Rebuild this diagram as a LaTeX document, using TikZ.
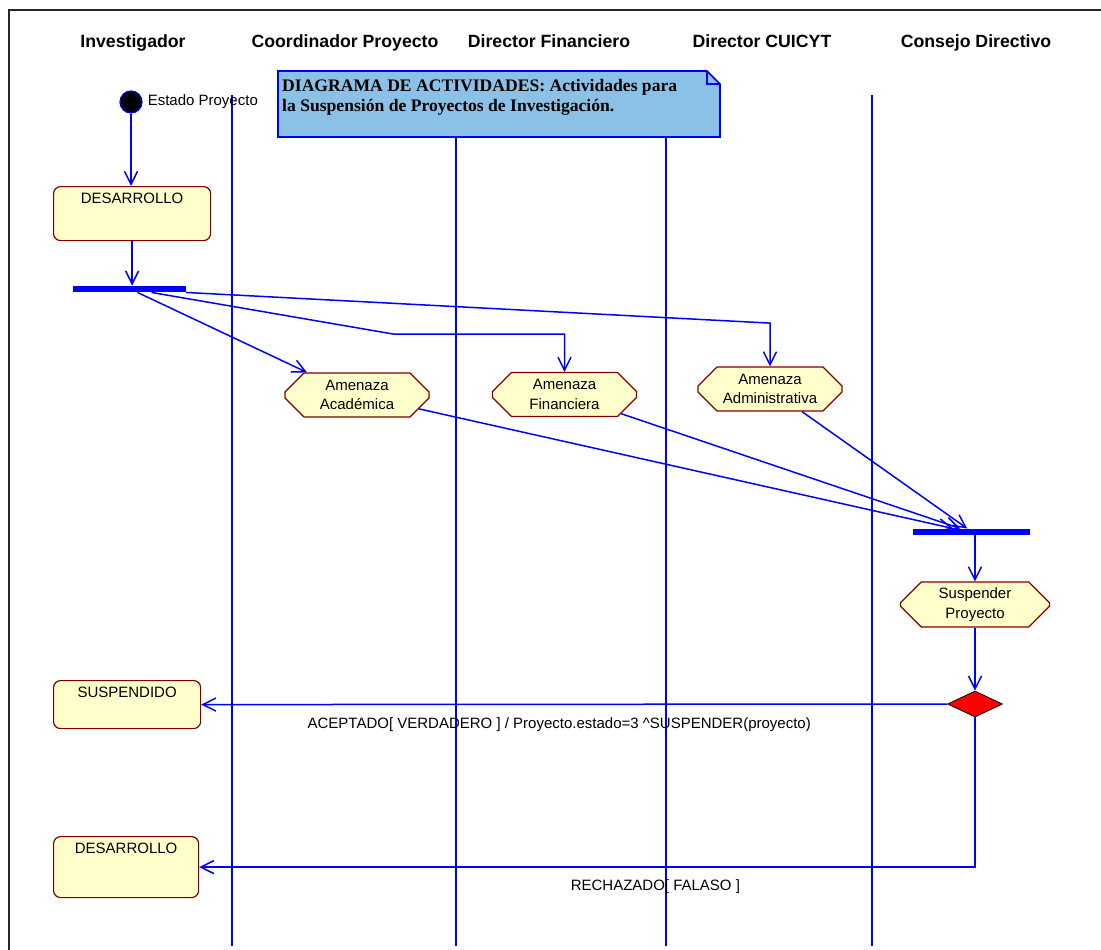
\documentclass[tikz,border=0pt]{standalone}
\usepackage{fontspec}
\setmainfont{Liberation Sans}
\newfontfamily\notafont{Liberation Serif}
\usepackage{tikz}
\usetikzlibrary{shapes.geometric, shapes.misc, positioning, arrows.meta, calc}

\definecolor{azulnota}{RGB}{139,193,231}
\definecolor{amarillo}{RGB}{255,255,204}
\definecolor{granate}{RGB}{128,0,0}

\tikzset{
  carril/.style={blue, line width=1.6pt},
  titulo/.style={font=\fontsize{17.7}{20}\selectfont\bfseries, anchor=base},
  estado/.style={rectangle, rounded corners=7pt, draw=granate, line width=1.2pt, fill=amarillo, anchor=north west, inner ysep=5pt, text height=12pt, font=\fontsize{15}{18}\selectfont},
  actividad/.style={chamfered rectangle, chamfered rectangle xsep=14pt, chamfered rectangle ysep=14pt, draw=granate, line width=1.2pt, fill=amarillo, minimum width=144pt, minimum height=44pt, inner xsep=1pt, inner ysep=-10pt, align=center, font=\fontsize{15}{19.5}\selectfont},
  barra/.style={rectangle, fill=blue, inner sep=0pt, minimum height=6.5pt},
  decision/.style={diamond, aspect=2.1, draw=black, line width=0.8pt, fill=red, inner sep=0pt, minimum width=55pt, minimum height=26pt},
  inicio/.style={circle, fill=black, draw=blue, line width=1.2pt, minimum size=22pt, inner sep=0pt},
  flecha/.style={blue, line width=1.5pt, -{Straight Barb[length=13pt, width=13pt, line width=1.5pt]}},
  etiqueta/.style={font=\fontsize{15}{18}\selectfont, text=black}
}

\begin{document}
\begin{tikzpicture}[x=1pt, y=-1pt]
    \useasboundingbox (0,0) rectangle (1101,950);

    % Marco
    \draw[line width=2pt, black!85] (9,10) rectangle (1120,970);

    % 1. Encabezados de los carriles
    \node[titulo] (tInv) at (133,48) {Investigador};
    \node[titulo] (tCoord) at (345,48) {Coordinador Proyecto};
    \node[titulo] (tFin) at (549,48) {Director Financiero};
    \node[titulo] (tCui) at (762,48) {Director CUICYT};
    \node[titulo] (tCon) at (976,48) {Consejo Directivo};

    % Lineas divisorias de carriles
    \foreach \x in {232, 456, 666, 872} {
        \draw[carril] (\x,95) -- (\x,946);
    }

    % Nota del diagrama (con esquina doblada)
    \draw[blue, line width=1.6pt, fill=azulnota] (278,71) -- (707,71) -- (720,84) -- (720,137) -- (278,137) -- cycle;
    \draw[blue, line width=1.2pt] (707,71) -- (707,84) -- (720,84);
    \node[anchor=north west, align=left, inner sep=0pt, font=\notafont\fontsize{17.6}{20}\selectfont\bfseries] (nota) at (282,79)
        {DIAGRAMA DE ACTIVIDADES: Actividades para\\la Suspensión de Proyectos de Investigación.};

    % 2. Estados y actividades
    \node[inicio, label={[etiqueta, inner sep=5pt]right:Estado Proyecto}] (ini) at (131,102) {};
    \node[estado, minimum width=157pt, text depth=32pt] (des1) at (53,186) {DESARROLLO};
    \node[barra, minimum width=113pt] (fork) at (129.5,289) {};

    \node[actividad] (acad) at (357,395) {Amenaza\\Académica};
    \node[actividad] (fin) at (564.5,394.5) {Amenaza\\Financiera};
    \node[actividad] (admin) at (770,389) {Amenaza\\Administrativa};

    \node[barra, minimum width=117pt] (join) at (971.3,532) {};
    \node[actividad, minimum width=149pt, minimum height=45pt] (susp) at (975,604.5) {Suspender\\Proyecto};
    \node[decision] (dec) at (975,704) {};

    \node[estado, minimum width=147pt, text depth=26pt] (suspendido) at (53,680) {SUSPENDIDO};
    \node[estado, minimum width=145pt, text depth=39pt] (des2) at (53,836) {DESARROLLO};

    % 3. Transiciones
    \coordinate (codo1) at (393,334);
    \coordinate (codo2) at (768,323);

    \draw[flecha] (ini) -- (ini |- des1.north);
    \draw[flecha] (des1.south) -- (des1.south |- fork.north);
    \draw[flecha] ([xshift=8pt]fork.south) -- ([xshift=-50pt]acad.north);
    \draw[flecha] ([xshift=22pt]fork.south) -- (codo1) -| (fin.north);
    \draw[flecha] (fork.south east) -- (codo2) -| (admin.north);

    \draw[flecha] (acad) -- ([xshift=-18pt]join.north);
    \draw[flecha] (fin) -- ([xshift=-11pt]join.north);
    \draw[flecha] (admin) -- ([xshift=-4pt]join.north);

    \draw[flecha] (join.south -| susp.north) -- (susp.north);
    \draw[flecha] (susp.south) -- (dec.north);

    \draw[flecha] (dec.west) -- node[etiqueta, pos=0.52, anchor=north, yshift=-9pt]
        {ACEPTADO[ VERDADERO ] / Proyecto.estado=3 \textasciicircum SUSPENDER(proyecto)} (suspendido.east);
    \draw[flecha] (dec.south) |- node[etiqueta, pos=0.706, anchor=north, yshift=-8pt]
        {RECHAZADO[ FALASO ]} (des2.east);

\end{tikzpicture}
\end{document}
